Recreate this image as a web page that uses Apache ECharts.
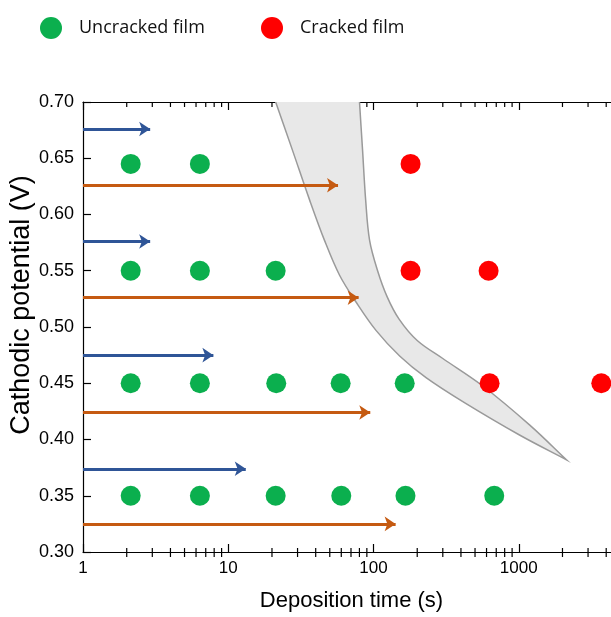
<!DOCTYPE html>
<html>
<head>
<meta charset="utf-8">
<script src="https://cdn.jsdelivr.net/npm/echarts@6/dist/echarts.min.js"></script>
<style>
  html, body { margin: 0; padding: 0; background: #fff; }
  #chart { width: 611px; height: 617px; }
</style>
</head>
<body>
<div id="chart"></div>
<script>
// [deposition time (s), cathodic potential (V)]
const uncrackedPoints = [
  [2.13, 0.645], [6.38, 0.645],
  [2.13, 0.55], [6.38, 0.55], [21.2, 0.55],
  [2.13, 0.45], [6.38, 0.45], [21.4, 0.45], [59.4, 0.45], [164, 0.45],
  [2.13, 0.35], [6.38, 0.35], [21.2, 0.35], [60, 0.35], [166, 0.35], [678, 0.35],
];
const crackedPoints = [
  [180, 0.645],
  [180, 0.55], [620, 0.55],
  [630, 0.45], [3700, 0.45],
];

// arrows start at t = 1 s: [end time, potential]
const blueArrows = [[2.9, 0.676], [2.9, 0.576], [7.9, 0.475], [13.2, 0.374]];
const orangeArrows = [[57, 0.626], [79, 0.526], [95, 0.424], [142, 0.325]];

// transition band, both edges from top to tip
const bandLeftEdge = [
  [18.6, 0.72], [21.2, 0.70], [27.7, 0.657], [36.3, 0.613], [46, 0.577], [58.4, 0.546],
  [76, 0.522], [104, 0.497], [152, 0.474], [230, 0.455], [420, 0.433], [1012, 0.404], [2130, 0.382],
];
const bandRightEdge = [
  [78.5, 0.72], [80.1, 0.70], [84.1, 0.657], [88.3, 0.613], [94, 0.577], [106.7, 0.55],
  [124, 0.527], [150, 0.507], [200, 0.488], [300, 0.472], [560, 0.448], [1186, 0.413], [2130, 0.382],
];

const xMinorTicks = [
  2, 3, 4, 5, 6, 7, 8, 9,
  20, 30, 40, 50, 60, 70, 80, 90,
  200, 300, 400, 500, 600, 700, 800, 900,
  2000, 3000, 4000, 5000, 6000, 7000, 8000, 9000,
];

const AXIS_FONT = 'Liberation Sans, Arial, sans-serif';
const BLUE = '#2F5597';
const ORANGE = '#C55A11';

const arrowSeries = (arrows, color) => ({
  type: 'lines',
  coordinateSystem: 'cartesian2d',
  xAxisIndex: 0,
  yAxisIndex: 0,
  z: 4,
  silent: true,
  symbol: ['none', 'arrow'],
  symbolSize: 11,
  lineStyle: { color: color, width: 3, opacity: 1, curveness: 0 },
  data: arrows.map(a => ({ coords: [[1, a[1]], [a[0], a[1]]] })),
});

const legendItem = (name, left) => ({
  data: [name],
  left: left,
  top: 12,
  icon: 'circle',
  itemWidth: 22,
  itemHeight: 22,
  selectedMode: false,
  textStyle: { fontFamily: 'Open Sans', fontSize: 18, color: '#111', padding: [0, 0, 0, 12] },
});

const createOption = () => ({
  animation: false,
  legend: [legendItem('Uncracked film', 35), legendItem('Cracked film', 256)],
  grid: { left: 83, top: 102, width: 581, height: 450, outerBoundsMode: 'none', containLabel: false },
  xAxis: [
    {
      type: 'log',
      logBase: 10,
      min: 1,
      max: 10000,
      position: 'bottom',
      name: 'Deposition time (s)',
      nameLocation: 'middle',
      nameGap: 38,
      nameMoveOverlap: false,
      nameTextStyle: { fontFamily: AXIS_FONT, fontSize: 22, color: '#000', padding: [0, 44, 0, 0] },
      axisLine: { lineStyle: { color: '#000', width: 1.2 } },
      axisTick: { inside: true, length: 8, lineStyle: { color: '#000', width: 1.2 } },
      axisLabel: {
        fontFamily: AXIS_FONT,
        fontSize: 17,
        color: '#000',
        margin: 8,
        formatter: v => String(Math.round(v)),
      },
      splitLine: { show: false },
    },
    {
      type: 'log',
      logBase: 10,
      min: 1,
      max: 10000,
      position: 'top',
      axisLine: { lineStyle: { color: '#000', width: 1.2 } },
      axisTick: { inside: true, length: 8, lineStyle: { color: '#000', width: 1.2 } },
      axisLabel: { show: false },
      splitLine: { show: false },
    },
  ],
  yAxis: {
    type: 'value',
    min: 0.3,
    max: 0.7,
    interval: 0.05,
    name: 'Cathodic potential (V)',
    nameLocation: 'middle',
    nameGap: 48,
    nameMoveOverlap: false,
    nameTextStyle: { fontFamily: AXIS_FONT, fontSize: 27, color: '#000', padding: [0, 0, 0, 44] },
    axisLine: { lineStyle: { color: '#000', width: 1.2 } },
    axisTick: { inside: true, length: 8, lineStyle: { color: '#000', width: 1.2 } },
    axisLabel: {
      fontFamily: AXIS_FONT,
      fontSize: 18,
      color: '#000',
      margin: 9,
      formatter: v => v.toFixed(2),
    },
    splitLine: { show: false },
  },
  series: [
    {
      // log minor ticks on bottom and top spines
      type: 'custom',
      silent: true,
      z: 1,
      data: xMinorTicks.map(v => [v, 0.5]),
      renderItem: (params, api) => {
        const bottom = api.coord([api.value(0), 0.3]);
        const top = api.coord([api.value(0), 0.7]);
        const style = { stroke: '#000', lineWidth: 1.2 };
        return {
          type: 'group',
          children: [
            { type: 'line', shape: { x1: bottom[0], y1: bottom[1] + 5, x2: bottom[0], y2: bottom[1] - 4 }, style },
            { type: 'line', shape: { x1: top[0], y1: top[1], x2: top[0], y2: top[1] + 5 }, style },
          ],
        };
      },
    },
    {
      // grey transition band
      type: 'custom',
      silent: true,
      clip: true,
      z: 2,
      data: [[100, 0.5]],
      renderItem: (params, api) => {
        const points = bandLeftEdge.concat(bandRightEdge.slice().reverse()).map(p => api.coord(p));
        return {
          type: 'polygon',
          shape: { points: points, smooth: 0.35 },
          style: { fill: '#E8E8E8', stroke: '#9A9A9A', lineWidth: 1.5 },
        };
      },
    },
    arrowSeries(blueArrows, BLUE),
    arrowSeries(orangeArrows, ORANGE),
    {
      name: 'Uncracked film',
      type: 'scatter',
      symbol: 'circle',
      symbolSize: 20,
      z: 5,
      itemStyle: { color: '#0BAF4E', opacity: 1 },
      data: uncrackedPoints,
    },
    {
      name: 'Cracked film',
      type: 'scatter',
      symbol: 'circle',
      symbolSize: 20,
      z: 5,
      itemStyle: { color: '#FF0000', opacity: 1 },
      data: crackedPoints,
    },
  ],
});

const chart = echarts.init(document.getElementById('chart'));
chart.setOption(createOption());
</script>
</body>
</html>
